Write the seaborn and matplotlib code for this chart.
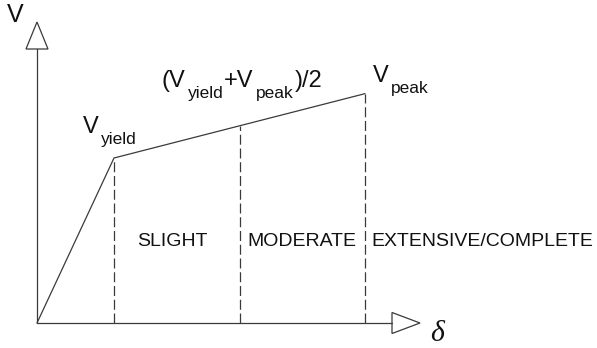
import matplotlib
matplotlib.use("Agg")
import matplotlib.pyplot as plt
import seaborn as sns
import pandas as pd
from matplotlib.patches import Polygon
from matplotlib.transforms import IdentityTransform

# ---- data (normalised: yield point = 1) ----
delta_pts = [0.0, 1.0, 4.26]          # origin, yield, peak displacement
v_pts = [0.0, 1.0, 1.39]              # origin, V_yield, V_peak
state_labels = ["SLIGHT", "MODERATE", "EXTENSIVE/COMPLETE"]
axis_labels = ["V", "\u03b4"]

d_y, d_p = delta_pts[1], delta_pts[2]
v_y, v_p = v_pts[1], v_pts[2]
d_m, v_m = (d_y + d_p) / 2, (v_y + v_p) / 2

sns.set_theme(style="white")
plt.rcParams["font.family"] = ["Liberation Sans", "DejaVu Sans"]

fig = plt.figure(figsize=(5.97, 3.48), dpi=100)
ax = fig.add_axes([0, 0, 1, 1])
sx, sy = 77.0, 165.0  # px per unit
ax.set_xlim(-37 / sx, (597 - 37) / sx)
ax.set_ylim(-25 / sy, 323 / sy)
ax.axis("off")

col = "#3a3a3a"
df = pd.DataFrame({"delta": delta_pts, "V": v_pts})
sns.lineplot(data=df, x="delta", y="V", ax=ax, color=col, lw=0.9, sort=False)

# dashed verticals
for xd, yv in [(d_y, v_y), (d_m, v_m), (d_p, v_p)]:
    ax.plot([xd, xd], [0, yv], color=col, lw=0.9, ls=(0, (8, 3)))

# axes with open arrowheads
y_base, y_tip, hw = 274 / sy, 301 / sy, 11 / sx
x_base, x_tip, hh = 355 / sx, 383 / sx, 10.5 / sy
ax.plot([0, 0], [0, y_base], color=col, lw=0.9)
ax.plot([0, x_base], [0, 0], color=col, lw=0.9)
ax.add_patch(Polygon([[-hw, y_base], [hw, y_base], [0, y_tip]], closed=True,
                     fc="white", ec=col, lw=0.9))
ax.add_patch(Polygon([[x_base, -hh], [x_base, hh], [x_tip, 0]], closed=True,
                     fc="white", ec=col, lw=0.9))

tc = "#111111"
ax.text(-22 / sx, 308 / sy, axis_labels[0], fontsize=18, color=tc, ha="center", va="center")
ax.text(x_tip + 17 / sx, -18 / sy, axis_labels[1], fontsize=21.5, color=tc, ha="center",
        va="baseline", family="Liberation Serif", style="italic")

fig.canvas.draw()
renderer = fig.canvas.get_renderer()
MAIN, SUB, DROP = 17, 12.5, 11


def compose(xd, yd, parts, center=False):
    """Place text pieces side by side; parts = (text, is_sub)."""
    px, py = ax.transData.transform((xd, yd))
    arts, cur = [], px
    for s, is_sub in parts:
        t = ax.text(cur + (1 if is_sub else 0), py - (DROP if is_sub else 0), s,
                    transform=IdentityTransform(), fontsize=SUB if is_sub else MAIN,
                    color=tc, ha="left", va="baseline")
        cur = t.get_window_extent(renderer).x1 + 1
        arts.append(t)
    if center:
        width = cur - px
        for t in arts:
            x0, y0 = t.get_position()
            t.set_position((x0 - width / 2, y0))


compose(d_y - 31 / sx, v_y + 25 / sy, [("V", False), ("yield", True)])
compose(d_m + 3 / sx, v_m + 39 / sy,
        [("(V", False), ("yield", True), ("+V", False), ("peak", True), (")/2", False)],
        center=True)
compose(d_p + 8 / sx, v_p + 12 / sy, [("V", False), ("peak", True)])

ymid = 81 / sy
fs = 14
ax.text((d_y + d_m) / 2 - 4 / sx, ymid, state_labels[0], fontsize=fs, color=tc, ha="center", va="center")
ax.text((d_m + d_p) / 2, ymid, state_labels[1], fontsize=fs, color=tc, ha="center", va="center")
ax.text(d_p + 6 / sx, ymid, state_labels[2], fontsize=fs, color=tc, ha="left", va="center")

fig.savefig("out.png", dpi=100)
